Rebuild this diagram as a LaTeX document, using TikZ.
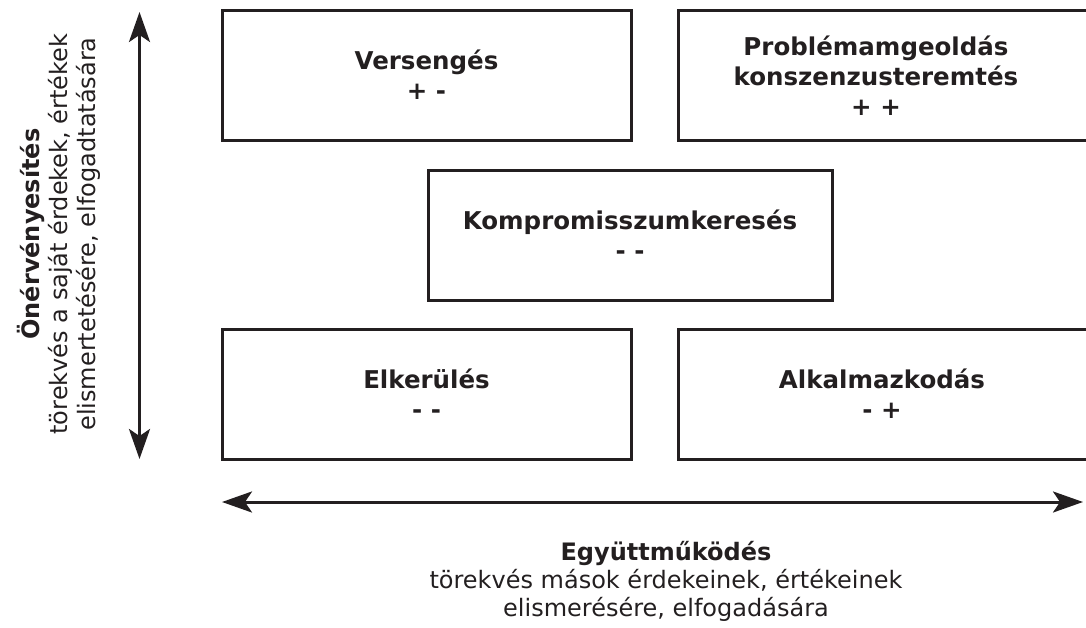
\documentclass[tikz,border=0pt]{standalone}
\usepackage{fontspec}
\setmainfont{DejaVu Sans}
\usetikzlibrary{arrows.meta}
\definecolor{ink}{HTML}{231F20}
\tikzset{
  box/.style={draw=ink, line width=3pt, rectangle, inner sep=0pt},
  title/.style={text=ink, align=center, font=\fontsize{24.5}{30}\selectfont\bfseries},
  axisnote/.style={text=ink, align=center, font=\fontsize{24}{28}\selectfont},
  axis/.style={draw=ink, line width=3pt,
    {Stealth[length=30pt, width=21pt, inset=7pt]}-{Stealth[length=30pt, width=21pt, inset=7pt]}}
}
\begin{document}
\begin{tikzpicture}[x=1pt, y=-1pt]
\useasboundingbox (0,0) rectangle (1086,628);
\clip (0,0) rectangle (1086,628);
% the five strategy boxes
\node[box, minimum width=409pt, minimum height=130pt] (verseng) at (426.5,76) {};
\node[box, minimum width=420pt, minimum height=130pt] (problema) at (888.5,76) {};
\node[box, minimum width=404pt, minimum height=130pt] (kompr) at (630,235.5) {};
\node[box, minimum width=409pt, minimum height=130pt] (elker) at (426.5,394) {};
\node[box, minimum width=420pt, minimum height=130pt] (alkalm) at (888.5,394) {};
% box titles
\node[title] (t1) at (426.5,75) {Versengés\\+ -};
\node[title] (t2) at (876,76) {Problémamgeoldás\\konszenzusteremtés\\+ +};
\node[title] (t3) at (630,235) {Kompromisszumkeresés\\- -};
\node[title] (t4) at (426.5,394) {Elkerülés\\- -};
\node[title] (t5) at (882,394) {Alkalmazkodás\\- +};
% axes
\coordinate (vtop) at (139.5,12);
\coordinate (vbot) at (139.5,459);
\coordinate (hleft) at (222,502);
\coordinate (hright) at (1083,502);
\draw[axis] (vtop) -- (vbot);
\draw[axis] (hleft) -- (hright);
% axis captions
\node[axisnote, rotate=90] (ylab) at (59,234)
  {{\bfseries Önérvényesítés}\\törekvés a saját érdekek, értékek\\elismertetésére, elfogadtatására};
\node[axisnote] (xlab) at (666,581)
  {{\bfseries Együttműködés}\\törekvés mások érdekeinek, értékeinek\\elismerésére, elfogadására};
\end{tikzpicture}
\end{document}
